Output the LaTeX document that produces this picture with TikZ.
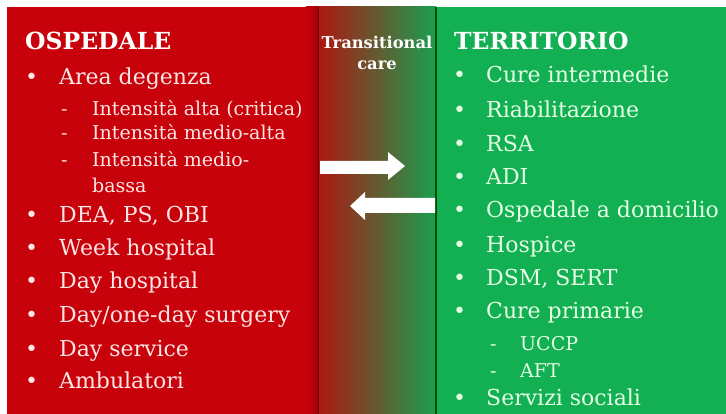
\documentclass[tikz,border=0pt]{standalone}
\usepackage{fontspec}
\setmainfont{DejaVu Serif}
\begin{document}
\begin{tikzpicture}[x=1pt,y=-1pt,
  redtxt/.style={text=red!10!white, anchor=base west, inner sep=0pt, font=\fontsize{22}{24}\selectfont},
  redsub/.style={redtxt, font=\fontsize{19}{21}\selectfont},
  grntxt/.style={text=green!10!white, anchor=base west, inner sep=0pt, font=\fontsize{22}{24}\selectfont},
  grnsub/.style={grntxt, font=\fontsize{19}{21}\selectfont},
  ttl/.style={text=white, anchor=base west, inner sep=0pt, font=\bfseries\fontsize{23.5}{26}\selectfont},
  midttl/.style={text=white, inner sep=0pt, anchor=base, font=\bfseries\fontsize{16.3}{18}\selectfont}]
\definecolor{panred}{RGB}{200,2,10}
\definecolor{pangreen}{RGB}{18,176,82}
\definecolor{gradL}{RGB}{172,24,18}
\definecolor{gradR}{RGB}{26,158,80}
\useasboundingbox (0,0) rectangle (726,414);
\fill[white] (0,0) rectangle (726,414);
% panels
\fill[panred] (7,7) rectangle (318,414);
\shade[left color=panred, right color=panred!80!black] (306,7) rectangle (318,414);
\shade[left color=gradL, right color=gradR] (318,7) rectangle (436,414);
\fill[pangreen] (436,7) rectangle (726,414);
\draw[panred!55!black, line width=1pt] (318,7) -- (318,414);
\draw[green!30!black, line width=1.2pt] (436,7) -- (436,414);
% middle title
\node[midttl] (tc1) at (377,49) {Transitional};
\node[midttl] (tc2) at (377,70) {care};
% arrows
\fill[white] (320,161) -- (388,161) -- (388,152) -- (405,166) -- (388,180) -- (388,174) -- (320,174) -- cycle;
\fill[white] (435,198) -- (365,198) -- (365,192) -- (350,206) -- (365,220) -- (365,213) -- (435,213) -- cycle;
% left column
\node[ttl] (ospedale) at (25,50) {OSPEDALE};
\foreach \y/\t/\n in {85/Area degenza/l1, 223/{DEA, PS, OBI}/l2, 256/Week hospital/l3, 289/Day hospital/l4, 323/Day\slash one-day surgery/l5, 356/Day service/l6, 388/Ambulatori/l7}{
  \node[redtxt] (b\n) at (25,\y) {•};
  \node[redtxt] (\n) at (59,\y) {\t};
}
\foreach \y/\t/\n in {116/Intensità alta (critica)/s1, 140/Intensità medio-alta/s2, 167/Intensità medio-/s3}{
  \node[redsub] (d\n) at (61,\y) {-};
  \node[redsub] (\n) at (92,\y) {\t};
}
\node[redsub] (s4) at (92,193) {bassa};
% right column
\node[ttl] (territorio) at (454,50) {TERRITORIO};
\foreach \y/\t/\n in {83/Cure intermedie/r1, 118/Riabilitazione/r2, 152/RSA/r3, 185/ADI/r4, 218/Ospedale a domicilio/r5, 253/Hospice/r6, 286/{DSM, SERT}/r7, 318/Cure primarie/r8, 405/Servizi sociali/r9}{
  \node[grntxt] (b\n) at (453,\y) {•};
  \node[grntxt] (\n) at (486,\y) {\t};
}
\foreach \y/\t/\n in {350/UCCP/t1, 377/AFT/t2}{
  \node[grnsub] (d\n) at (490,\y) {-};
  \node[grnsub] (\n) at (520,\y) {\t};
}
\end{tikzpicture}
\end{document}
